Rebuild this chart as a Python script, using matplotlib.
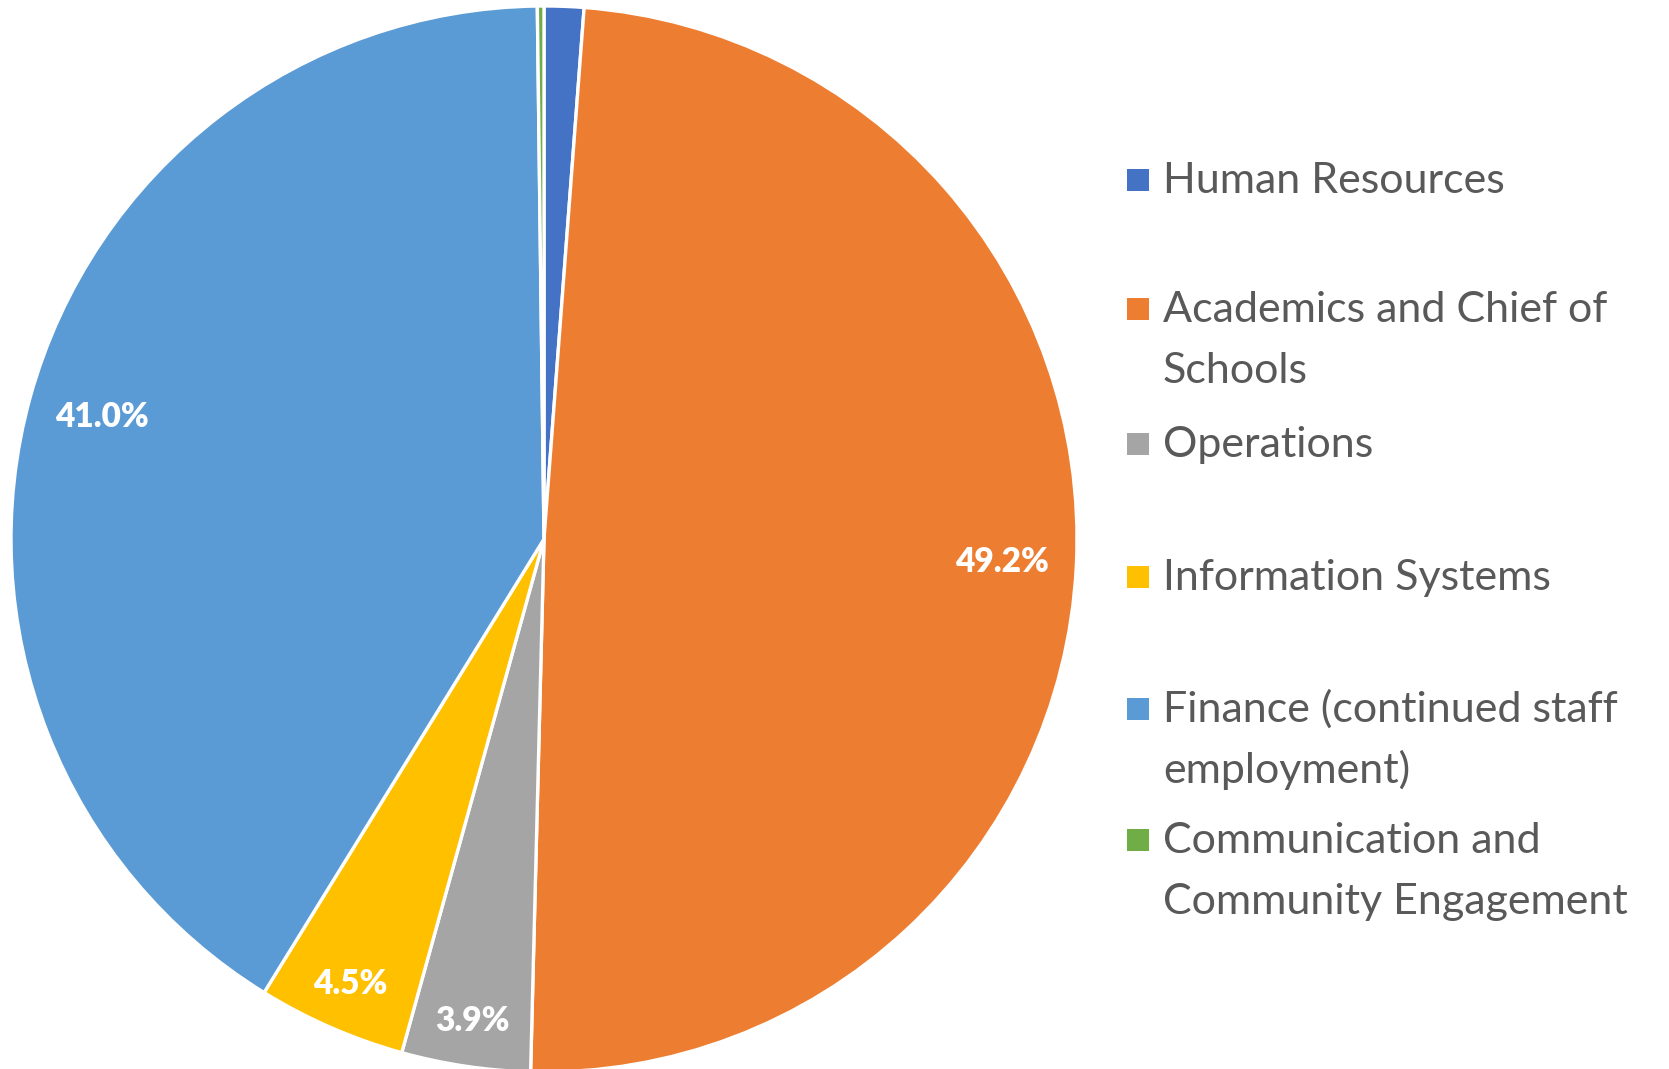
import numpy as np
import matplotlib
matplotlib.use('Agg')
import matplotlib.pyplot as plt
from matplotlib.patches import Rectangle

plt.rcParams['font.family'] = ['Lato', 'DejaVu Sans']

# data
categories = [
    'Human Resources',
    'Academics and Chief of\nSchools',
    'Operations',
    'Information Systems',
    'Finance (continued staff\nemployment)',
    'Communication and\nCommunity Engagement',
]
shares = [1.2, 49.2, 3.9, 4.5, 41.0, 0.2]
colors = ['#4472C4', '#ED7D31', '#A5A5A5', '#FFC000', '#5B9BD5', '#70AD47']
show_label = [False, True, True, True, True, False]
label_dist = [0.86, 0.86, 0.915, 0.91, 0.86, 0.86]

W, H = 1669, 1069
fig = plt.figure(figsize=(W / 100, H / 100), dpi=100)

# pie axes: center (544, 539) px, radius 533 px
cx, cy, r = 544, 539, 533
ax = fig.add_axes([(cx - r) / W, (H - cy - r) / H, 2 * r / W, 2 * r / H])
wedges, _ = ax.pie(shares, colors=colors, startangle=90, counterclock=False,
                   radius=1, wedgeprops=dict(edgecolor='white', linewidth=2.4))
ax.set_xlim(-1, 1)
ax.set_ylim(-1, 1)
ax.set_aspect('equal')
ax.axis('off')

for w, val, show, d in zip(wedges, shares, show_label, label_dist):
    if not show:
        continue
    ang = np.radians((w.theta1 + w.theta2) / 2)
    ax.text(d * np.cos(ang), d * np.sin(ang), f'{val:.1f}%',
            ha='center', va='center', color='white', fontsize=24,
            fontweight='heavy')

# legend, drawn by hand to follow the reference layout
baselines = [193, 322, 457, 590, 722, 853]
line_gap = 61
for cat, col, yb in zip(categories, colors, baselines):
    fig.patches.append(Rectangle((1127 / W, (H - yb + 2) / H), 22 / W, 22 / H,
                                 transform=fig.transFigure, facecolor=col,
                                 edgecolor='none'))
    for k, line in enumerate(cat.split('\n')):
        fig.text(1163 / W, (H - yb - k * line_gap) / H, line,
                 ha='left', va='baseline', color='#595959', fontsize=31)

fig.savefig('out.png', dpi=100, facecolor='white')
